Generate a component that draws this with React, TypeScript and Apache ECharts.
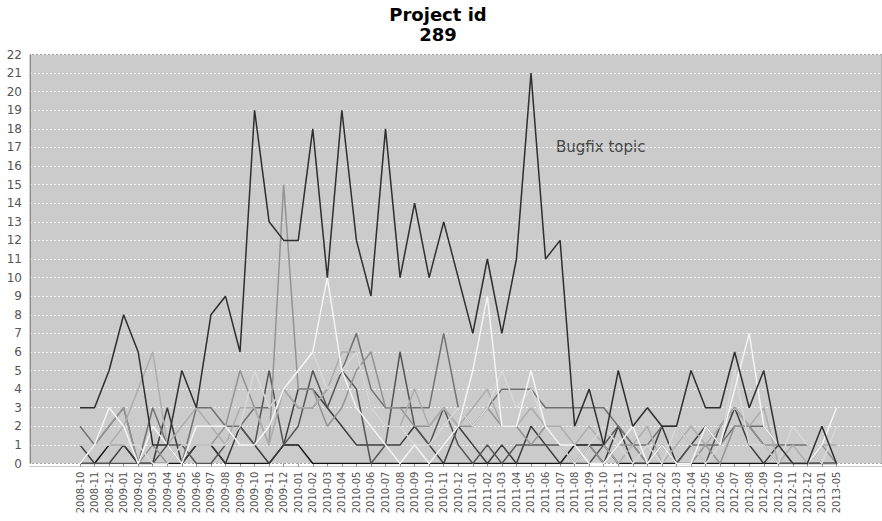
import React, { useEffect, useRef } from 'react';
import * as echarts from 'echarts';

// Monthly buckets on the category axis
const months = [
  '2008-10', '2008-11', '2008-12',
  '2009-01', '2009-02', '2009-03', '2009-04', '2009-05', '2009-06',
  '2009-07', '2009-08', '2009-09', '2009-10', '2009-11', '2009-12',
  '2010-01', '2010-02', '2010-03', '2010-04', '2010-05', '2010-06',
  '2010-07', '2010-08', '2010-09', '2010-10', '2010-11', '2010-12',
  '2011-01', '2011-02', '2011-03', '2011-04', '2011-05', '2011-06',
  '2011-07', '2011-08', '2011-09', '2011-10', '2011-11', '2011-12',
  '2012-01', '2012-02', '2012-03', '2012-04', '2012-05', '2012-06',
  '2012-07', '2012-08', '2012-09', '2012-10', '2012-11', '2012-12',
  '2013-01', '2013-05',
];

// Commit counts per topic and month
const bugfix = [
  3, 3, 5, 8, 6, 1, 1, 5, 3, 8,
  9, 6, 19, 13, 12, 12, 18, 10, 19, 12,
  9, 18, 10, 14, 10, 13, 10, 7, 11, 7,
  11, 21, 11, 12, 2, 4, 1, 5, 2, 3,
  2, 2, 5, 3, 3, 6, 3, 5, 1, 0,
  0, 2, 0,
];
const topic1 = [
  0, 0, 1, 1, 0, 0, 0, 0, 1, 1,
  0, 0, 0, 0, 1, 1, 0, 0, 0, 0,
  0, 0, 0, 0, 0, 0, 0, 0, 0, 0,
  0, 0, 0, 0, 1, 1, 1, 0, 0, 0,
  0, 0, 0, 0, 0, 0, 0, 0, 0, 0,
  0, 0, 0,
];
const topic2 = [
  1, 0, 0, 1, 0, 0, 3, 0, 1, 1,
  0, 2, 1, 0, 1, 4, 4, 3, 2, 1,
  1, 1, 1, 2, 1, 0, 2, 1, 0, 1,
  0, 2, 1, 0, 0, 1, 0, 2, 0, 0,
  2, 0, 1, 2, 1, 3, 1, 0, 1, 0,
  0, 0, 0,
];
const topic3 = [
  0, 0, 0, 0, 0, 0, 1, 1, 0, 0,
  1, 2, 1, 5, 1, 2, 5, 3, 5, 4,
  0, 1, 6, 2, 1, 3, 1, 0, 1, 0,
  1, 1, 1, 1, 0, 0, 1, 2, 1, 0,
  1, 0, 1, 0, 2, 3, 2, 1, 0, 0,
  0, 0, 0,
];
const topic4 = [
  2, 1, 2, 3, 0, 3, 1, 0, 3, 3,
  2, 2, 3, 3, 4, 3, 3, 4, 5, 7,
  4, 3, 3, 3, 3, 7, 3, 2, 3, 4,
  4, 4, 3, 3, 3, 3, 3, 2, 1, 1,
  2, 2, 1, 1, 1, 2, 2, 2, 1, 1,
  1, 0, 0,
];
const topic5 = [
  1, 1, 2, 3, 0, 1, 0, 1, 1, 1,
  2, 5, 3, 1, 15, 4, 4, 2, 3, 5,
  6, 3, 3, 2, 2, 3, 2, 2, 3, 2,
  2, 1, 2, 1, 0, 1, 0, 1, 1, 0,
  1, 0, 0, 1, 0, 2, 2, 1, 1, 0,
  0, 1, 0,
];
const topic6 = [
  0, 1, 1, 2, 4, 6, 1, 2, 3, 2,
  1, 3, 3, 1, 4, 3, 3, 4, 6, 6,
  3, 2, 2, 4, 2, 3, 2, 3, 4, 2,
  2, 3, 2, 2, 1, 2, 1, 0, 1, 2,
  0, 1, 2, 1, 2, 3, 2, 3, 0, 1,
  0, 1, 1,
];
const topic7 = [
  1, 1, 1, 1, 1, 0, 0, 1, 1, 1,
  1, 2, 5, 3, 4, 5, 6, 4, 5, 6,
  3, 2, 2, 1, 1, 2, 3, 2, 3, 5,
  3, 4, 2, 1, 0, 1, 2, 1, 0, 1,
  0, 2, 1, 0, 1, 5, 1, 1, 0, 2,
  1, 0, 2,
];
const topic8 = [
  0, 1, 3, 2, 0, 2, 1, 0, 2, 2,
  2, 1, 1, 2, 4, 5, 6, 10, 5, 3,
  2, 1, 0, 1, 0, 1, 2, 5, 9, 2,
  2, 5, 2, 1, 1, 0, 0, 1, 2, 0,
  1, 0, 0, 2, 1, 4, 7, 2, 1, 0,
  0, 1, 3,
];

const topics = [topic1, topic2, topic3, topic4, topic5, topic6, topic7, topic8];
const topicColors = ['#141414', '#3c3c3c', '#545454', '#727272', '#939393', '#adadad', '#d8d8d8', '#f4f4f4'];

const FONT = 'DejaVu Sans';

export default function App() {
  const ref = useRef<HTMLDivElement>(null);

  useEffect(() => {
    const chart = echarts.init(ref.current as HTMLDivElement, null, { renderer: 'svg' });
    const top = 54.5;
    const bottom = 57.5;

    const lineSeries = (data: number[], color: string, z: number) => ({
      type: 'line',
      xAxisIndex: 1,
      yAxisIndex: 1,
      data,
      symbol: 'none',
      silent: true,
      z,
      lineStyle: { color, width: 1.5 },
    });

    chart.setOption({
      animation: false,
      backgroundColor: '#ffffff',
      grid: [
        {
          left: 30, right: 0, top, bottom,
          show: true, backgroundColor: '#cbcbcb',
          borderWidth: 1, borderColor: '#a3a3a3',
        },
        { left: 80, right: 45.5, top, bottom },
      ],
      xAxis: [
        {
          gridIndex: 0, type: 'value', min: 0, max: 1,
          offset: 3,
          axisLine: { show: true, onZero: false, lineStyle: { color: '#c6c6c6', width: 1 } },
          axisTick: { show: false },
          axisLabel: { show: false },
          splitLine: { show: false },
        },
        {
          gridIndex: 1, type: 'category', data: months, boundaryGap: false,
          offset: 3,
          axisLine: { show: false },
          axisTick: { show: true, length: 3, interval: 0, lineStyle: { color: '#8a8a8a' } },
          axisLabel: {
            interval: 0, rotate: 90, margin: 5,
            fontFamily: FONT, fontSize: 10, color: '#555555',
          },
          splitLine: { show: false },
        },
      ],
      yAxis: [
        {
          gridIndex: 0, type: 'value', min: 0, max: 22, interval: 1,
          axisLine: { show: true, lineStyle: { color: '#8c8c8c', width: 1 } },
          axisTick: { show: false },
          axisLabel: { margin: 8, fontFamily: FONT, fontSize: 12, color: '#555555' },
          splitLine: { show: true, lineStyle: { color: '#f2f2f2', width: 1, type: [2, 2] } },
        },
        { gridIndex: 1, type: 'value', min: 0, max: 22, interval: 1, show: false },
      ],
      graphic: [
        {
          // chart heading, two centred lines
          type: 'text', x: 438, y: 4, silent: true,
          style: {
            text: 'Project id\n289', fontFamily: FONT, fontWeight: 'bold',
            fontSize: 18, lineHeight: 20, fill: '#000000',
            textAlign: 'center', verticalAlign: 'top',
          },
        },
        {
          type: 'text', x: 556, y: 147, silent: true,
          style: {
            text: 'Bugfix topic', fontFamily: FONT, fontSize: 15,
            fill: '#454545', verticalAlign: 'middle', textAlign: 'left',
          },
        },
      ],
      series: [
        ...topics.map((d, i) => lineSeries(d, topicColors[i], 2 + i)),
        lineSeries(bugfix, '#2e2e2e', 20),
      ],
    });

    return () => chart.dispose();
  }, []);

  return (
    <div
      ref={ref}
      style={{ position: 'absolute', left: 0, top: 0, width: 882, height: 521 }}
    />
  );
}
